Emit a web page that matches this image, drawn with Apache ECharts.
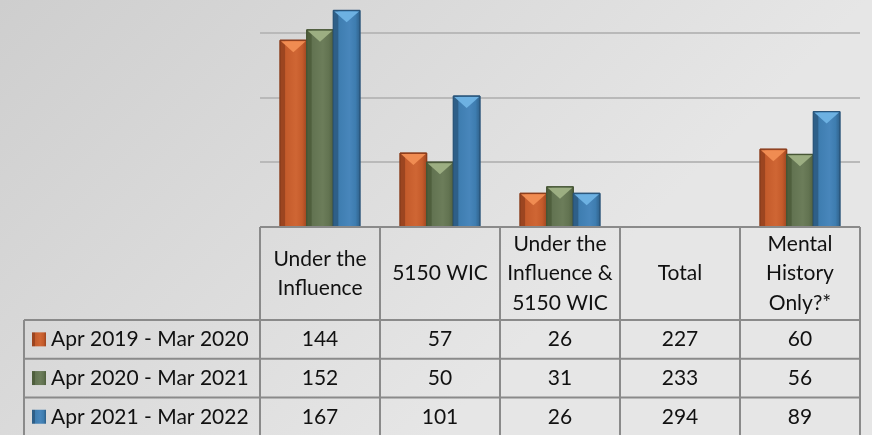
<!DOCTYPE html>
<html>
<head>
<meta charset="utf-8">
<script src="https://cdn.jsdelivr.net/npm/echarts@6/dist/echarts.min.js"></script>
<style>
  html, body { margin: 0; padding: 0; }
  #chart { width: 872px; height: 435px; }
</style>
</head>
<body>
<div id="chart"></div>
<script>
const categories = ['Under the\nInfluence', '5150 WIC', 'Under the\nInfluence &\n5150 WIC', 'Total', 'Mental\nHistory\nOnly?*'];
const seriesNames = ['Apr 2019 - Mar 2020', 'Apr 2020 - Mar 2021', 'Apr 2021 - Mar 2022'];
const values2019 = [144, 57, 26, 227, 60];
const values2020 = [152, 50, 31, 233, 56];
const values2021 = [167, 101, 26, 294, 89];
// the original plots no bars for the Total column
const plotted = [true, true, true, false, true];
const yMax = 175;
const yStep = 50;

const allValues = [values2019, values2020, values2021];

const palette = [
  { dark: '#9c4520', mid: '#c45b2b', light: '#cf6634', edge: '#8a3c1b', cap: '#f08c52' },
  { dark: '#4f5f3d', mid: '#627351', light: '#6c7d5a', edge: '#465535', cap: '#9cae82' },
  { dark: '#2e5f88', mid: '#3e7db0', light: '#4886bb', edge: '#2a557a', cap: '#6db1e2' }
];

const FONT = '21px Lato, "Open Sans", sans-serif';
const LINE = '#8a8a8a';
const GRID = '#b9b9b9';

function barGradient(c) {
  return new echarts.graphic.LinearGradient(0, 0, 1, 0, [
    { offset: 0, color: c.dark },
    { offset: 0.18, color: c.dark },
    { offset: 0.22, color: c.mid },
    { offset: 0.6, color: c.light },
    { offset: 0.82, color: c.mid },
    { offset: 1, color: c.dark }
  ]);
}

function renderBar(idx) {
  return function (params, api) {
    const val = api.value(1);
    if (val == null || isNaN(val)) {
      return;
    }
    const base = api.coord([api.value(0), 0]);
    const top = api.coord([api.value(0), val]);
    const band = api.size([1, 0])[0];
    const bw = band * 0.222;
    const x0 = base[0] - 1.5 * bw + idx * bw;
    const c = palette[idx];
    return {
      type: 'group',
      children: [
        {
          type: 'rect',
          shape: { x: x0, y: top[1], width: bw, height: base[1] - top[1] },
          style: { fill: barGradient(c), stroke: c.edge, lineWidth: 1 }
        },
        {
          type: 'polygon',
          shape: { points: [[x0 + 1, top[1] + 1], [x0 + bw - 1, top[1] + 1], [x0 + bw / 2, top[1] + bw * 0.45]] },
          style: { fill: c.cap }
        }
      ]
    };
  };
}

let chart = echarts.init(document.getElementById('chart'));

let series = seriesNames.map(function (name, i) {
  return {
    name: name,
    type: 'custom',
    renderItem: renderBar(i),
    data: allValues[i].map(function (v, j) {
      return [j, plotted[j] ? v : null];
    }),
    z: 3
  };
});

chart.setOption({
  backgroundColor: new echarts.graphic.LinearGradient(0, 0, 0.5, 1, [
    { offset: 0, color: '#cecece' },
    { offset: 1, color: '#e6e6e6' }
  ]),
  animation: false,
  grid: { left: 260, right: 12, top: 0, bottom: 208 },
  xAxis: {
    type: 'category',
    data: categories,
    show: false
  },
  yAxis: {
    type: 'value',
    min: 0,
    max: yMax,
    interval: yStep,
    axisLabel: { show: false },
    axisLine: { show: false },
    axisTick: { show: false },
    // no gridline at the clipped top edge
    splitLine: { lineStyle: { color: [GRID, GRID, GRID, GRID, 'transparent'], width: 2 } }
  },
  series: series
});

// data table under the plot, placed from the category axis
function buildTable() {
  const headTop = 227, headBottom = 320, rowH = 38.7;
  const legendLeft = 24;
  let half = chart.convertToPixel({ xAxisIndex: 0 }, 1) - chart.convertToPixel({ xAxisIndex: 0 }, 0);
  half = half / 2;
  const centers = categories.map(function (c, j) {
    return chart.convertToPixel({ xAxisIndex: 0 }, j);
  });
  const left = centers[0] - half;
  const right = centers[centers.length - 1] + half;
  const bottom = headBottom + rowH * seriesNames.length + 4;
  let els = [];
  function line(x1, y1, x2, y2) {
    els.push({ type: 'line', shape: { x1: x1, y1: y1, x2: x2, y2: y2 }, style: { stroke: LINE, lineWidth: 2 }, z: 10 });
  }
  function text(str, x, y, align) {
    els.push({
      type: 'text', x: x, y: y, z: 11,
      style: { text: str, font: FONT, fill: '#111', align: align || 'center', verticalAlign: 'middle', lineHeight: 29.5 }
    });
  }
  // header row
  line(left, headTop, right, headTop);
  line(legendLeft, headBottom, right, headBottom);
  for (let j = 0; j <= categories.length; j++) {
    const x = left + j * half * 2;
    line(x, headTop, x, bottom);
  }
  line(legendLeft, headBottom, legendLeft, bottom);
  categories.forEach(function (c, j) {
    text(c, centers[j], (headTop + headBottom) / 2);
  });
  // series rows
  seriesNames.forEach(function (name, i) {
    const y0 = headBottom + i * rowH;
    const cy = y0 + rowH / 2;
    if (i > 0) {
      line(legendLeft, y0, right, y0);
    }
    els.push({
      type: 'rect', z: 11,
      shape: { x: 32, y: cy - 7, width: 14, height: 14 },
      style: { fill: barGradient(palette[i]) }
    });
    text(name, 51, cy, 'left');
    allValues[i].forEach(function (v, j) {
      text(String(v), centers[j], cy);
    });
  });
  chart.setOption({ graphic: { elements: els } });
}

buildTable();
</script>
</body>
</html>
